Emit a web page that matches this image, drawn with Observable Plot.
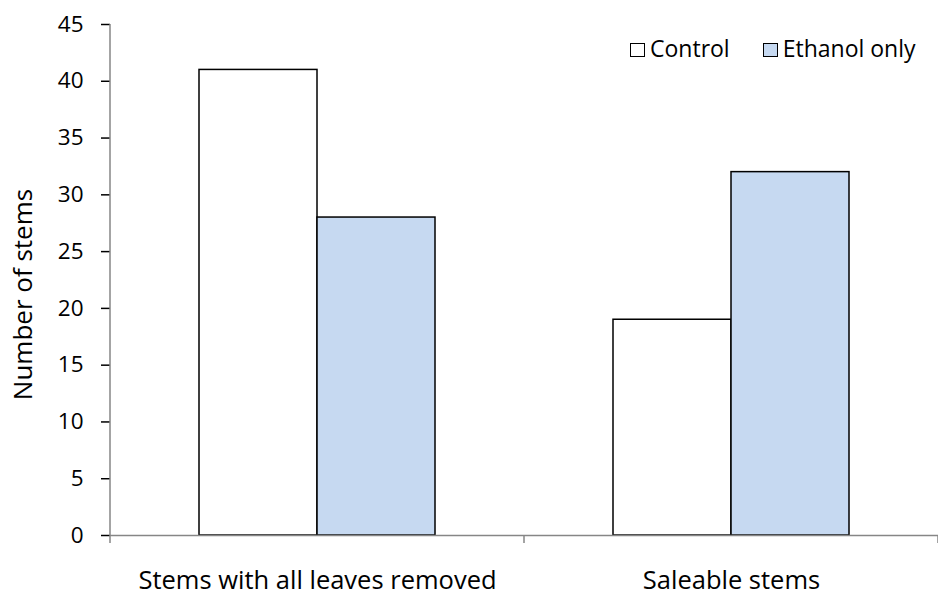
<!DOCTYPE html>
<html>
<head>
<meta charset="utf-8">
<script src="https://cdn.jsdelivr.net/npm/d3@7"></script>
<script src="https://cdn.jsdelivr.net/npm/@observablehq/plot@0.6"></script>
<style>
  html, body { margin: 0; padding: 0; background: #fff; }
  #wrap { position: relative; width: 938px; height: 594px; font-family: "Open Sans", sans-serif; }
  #wrap svg g[aria-label="y-axis tick"] { stroke: #868686; stroke-width: 1.5; }
  #wrap svg g[aria-label="y-axis tick label"] { font-size: 22.5px; }
  #wrap svg g[aria-label="fx-axis tick label"] { font-size: 25.5px; }
  #legend { position: absolute; left: 630px; top: 37px; font-size: 23px; line-height: 23px; color: #000; white-space: nowrap; }
  #legend .sw { display: inline-block; width: 13px; height: 12px; border: 1px solid #000; margin-right: 5px; vertical-align: baseline; }
  #legend .item { margin-right: 33px; }
</style>
</head>
<body>
<div id="wrap"></div>
<script>
const categories = ["Stems with all leaves removed", "Saleable stems"];
const series = ["Control", "Ethanol only"];
const controlValues = [41, 19];
const ethanolValues = [28, 32];
const yTicks = [0, 5, 10, 15, 20, 25, 30, 35, 40, 45];
const seriesColors = ["#FFFFFF", "#C6D9F1"];
const yTitle = "Number of stems";

const data = [];
categories.forEach((c, i) => {
  data.push({category: c, series: series[0], value: controlValues[i]});
  data.push({category: c, series: series[1], value: ethanolValues[i]});
});

const axisGray = "#868686";

const plot = Plot.plot({
  width: 938,
  height: 594,
  marginLeft: 110,
  marginRight: 0,
  marginTop: 24,
  marginBottom: 59,
  style: {fontSize: "22px", fontFamily: "'Open Sans', sans-serif", color: "#000", background: "#fff", overflow: "visible"},
  fx: {domain: categories, padding: 0, label: null, axis: "bottom", tickSize: 0, tickPadding: 35},
  x: {domain: series, paddingInner: 0, paddingOuter: 0.75, axis: null},
  y: {domain: [0, 45], ticks: yTicks, tickSize: 9, tickPadding: 18, label: null, grid: false},
  color: {domain: series, range: seriesColors},
  marks: [
    Plot.barY(data, {fx: "category", x: "series", y: "value", fill: "series", stroke: "#000", strokeWidth: 1.5}),
    Plot.ruleY([0], {stroke: axisGray, strokeWidth: 1.5})
  ]
});

document.getElementById("wrap").appendChild(plot);

// y-axis line and category separator ticks, positioned through Plot's scales
const fx = plot.scale("fx");
const y = plot.scale("y");
const svg = d3.select(plot);
const bounds = categories.map(c => fx.apply(c)).concat([fx.apply(categories[categories.length - 1]) + fx.bandwidth]);
const g = svg.append("g").attr("stroke", axisGray).attr("stroke-width", 1.5);
g.append("line").attr("x1", bounds[0]).attr("x2", bounds[0]).attr("y1", y.apply(0)).attr("y2", y.apply(45));
bounds.forEach(bx => {
  g.append("line").attr("x1", bx).attr("x2", bx).attr("y1", y.apply(0)).attr("y2", y.apply(0) + 8);
});

// y-axis title
svg.append("text")
  .attr("transform", `translate(32,${(y.apply(0) + y.apply(45)) / 2 + 15}) rotate(-90)`)
  .attr("text-anchor", "middle")
  .attr("font-size", 26)
  .attr("fill", "#000")
  .text(yTitle);

// legend
const legend = document.createElement("div");
legend.id = "legend";
series.forEach((s, i) => {
  const item = document.createElement("span");
  item.className = "item";
  const sw = document.createElement("span");
  sw.className = "sw";
  sw.style.background = seriesColors[i];
  item.appendChild(sw);
  item.appendChild(document.createTextNode(s));
  legend.appendChild(item);
});
document.getElementById("wrap").appendChild(legend);
</script>
</body>
</html>
